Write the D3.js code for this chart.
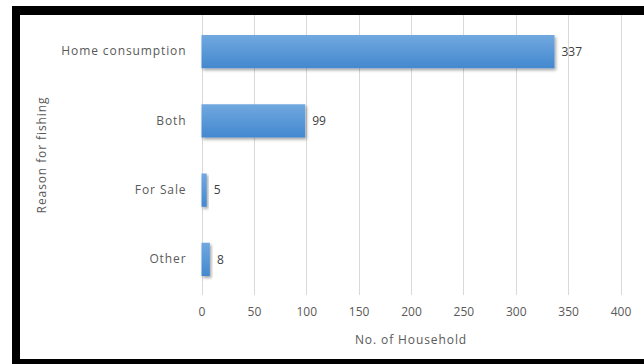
<!DOCTYPE html>
<html><head><meta charset="utf-8">
<script src="https://cdn.jsdelivr.net/npm/d3@7"></script>
<style>html,body{margin:0;padding:0;background:#fff;}svg{display:block;}</style>
</head><body><svg id="c" width="644" height="364"></svg>
<script>
const categories = ["Home consumption", "Both", "For Sale", "Other"];
const values = [337, 99, 5, 8];
const xTicks = [0, 50, 100, 150, 200, 250, 300, 350, 400];
const xTitle = "No. of Household";
const yTitle = "Reason for fishing";

const svg = d3.select("#c");
const font = "'Open Sans', Lato, sans-serif";
const txt = "#595959";
const ls = "0.9px";

const defs = svg.append("defs");
const g = defs.append("linearGradient").attr("id","bg").attr("x1",0).attr("y1",0).attr("x2",0).attr("y2",1);
g.append("stop").attr("offset","0%").attr("stop-color","#71a8df");
g.append("stop").attr("offset","100%").attr("stop-color","#4388cf");
const f = defs.append("filter").attr("id","sh").attr("x","-20%").attr("y","-20%").attr("width","150%").attr("height","160%");
f.append("feDropShadow").attr("dx",1.5).attr("dy",2).attr("stdDeviation",1.5).attr("flood-color","#000").attr("flood-opacity",0.35);

// frame
svg.append("rect").attr("x",12).attr("y",6).attr("width",632).attr("height",9).attr("fill","#000");
svg.append("rect").attr("x",12).attr("y",6).attr("width",8).attr("height",358).attr("fill","#000");
svg.append("rect").attr("x",12).attr("y",359).attr("width",632).attr("height",5).attr("fill","#000");

const x = d3.scaleLinear().domain([0, 400]).range([201.5, 620.5]);
const y = d3.scaleBand().domain(categories).range([17, 294]).paddingInner(0.52).paddingOuter(0.26);

// gridlines
svg.append("g").selectAll("line").data(xTicks).join("line")
  .attr("x1", d => Math.round(x(d))+0.5).attr("x2", d => Math.round(x(d))+0.5)
  .attr("y1", 15).attr("y2", 295)
  .attr("stroke", "#d9d9d9").attr("stroke-width", 1);

// x axis labels
const xa = svg.append("g").attr("transform","translate(0,295)")
  .call(d3.axisBottom(x).tickValues(xTicks).tickSize(0).tickPadding(12).tickFormat(d3.format("d")));
xa.select(".domain").remove();
xa.selectAll("text").attr("fill", txt).style("font-family", font).style("font-size","12px");

// y axis labels
const ya = svg.append("g").attr("transform","translate(201.5,0)")
  .call(d3.axisLeft(y).tickSize(0).tickPadding(15));
ya.select(".domain").remove();
ya.selectAll("text").attr("fill", txt).style("font-family", font).style("font-size","12px").style("letter-spacing", ls);

// bars
svg.append("g").selectAll("rect").data(values).join("rect")
  .attr("x", x(0))
  .attr("y", (d,i) => y(categories[i]))
  .attr("width", d => x(d) - x(0))
  .attr("height", y.bandwidth())
  .attr("fill", "url(#bg)")
  .attr("filter", "url(#sh)");

// value labels
svg.append("g").selectAll("text").data(values).join("text")
  .attr("x", d => x(d) + 7)
  .attr("y", (d,i) => y(categories[i]) + y.bandwidth()/2)
  .attr("dy", "0.35em")
  .attr("fill", "#404040").style("font-family", font).style("font-size","12px")
  .text(d => d);

// titles
svg.append("text").attr("x", (x(0)+x(400))/2).attr("y", 344).attr("text-anchor","middle")
  .attr("fill", txt).style("font-family", font).style("font-size","12px").style("letter-spacing", ls).text(xTitle);
svg.append("text").attr("transform","translate(46,155) rotate(-90)").attr("text-anchor","middle")
  .attr("fill", txt).style("font-family", font).style("font-size","12px").style("letter-spacing", ls).text(yTitle);
</script></body></html>
